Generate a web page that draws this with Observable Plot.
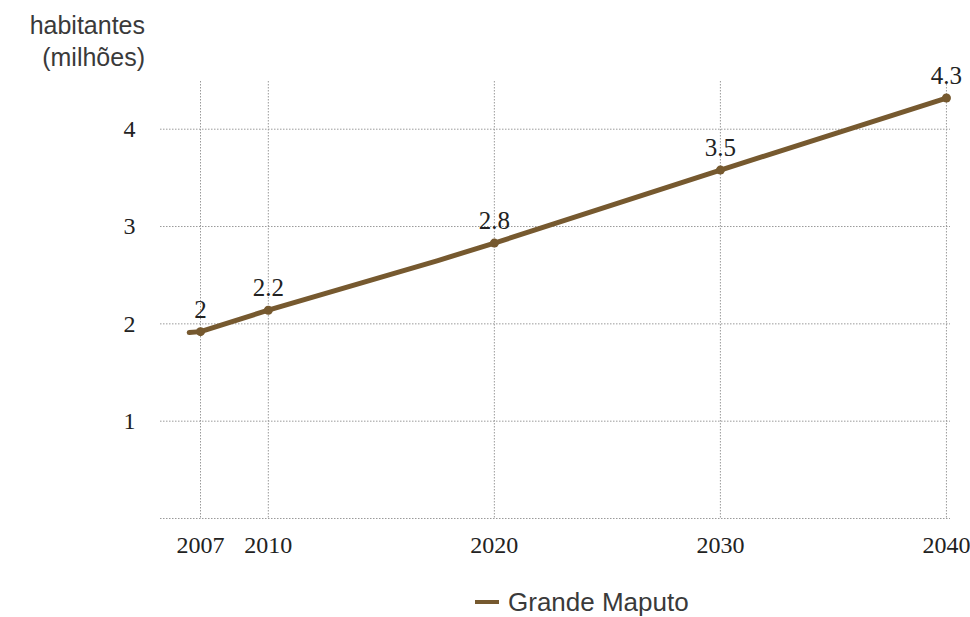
<!DOCTYPE html>
<html>
<head>
<meta charset="utf-8">
<script src="https://cdn.jsdelivr.net/npm/d3@7"></script>
<script src="https://cdn.jsdelivr.net/npm/@observablehq/plot@0.6"></script>
<style>
  html, body { margin: 0; padding: 0; background: #fff; }
  #wrap { position: relative; width: 970px; height: 617px; overflow: hidden; }
  #title { position: absolute; right: 825px; top: 9px; text-align: right; white-space: nowrap;
    font-family: "Liberation Sans", Arial, sans-serif; font-size: 25px; line-height: 32px; color: #3a3a3a; }
  #legend { position: absolute; left: 475px; top: 587px; white-space: nowrap;
    font-family: "Liberation Sans", Arial, sans-serif; font-size: 26px; color: #3a3a3a; }
  #legend .sw { display: inline-block; width: 24px; height: 4px; background: #76592f; vertical-align: middle; margin-right: 9px; position: relative; top: -2px; }
  #chart { position: absolute; left: 0; top: 0; }
</style>
</head>
<body>
<div id="wrap">
  <div id="chart"></div>
  <div id="title">habitantes<br>(milhões)</div>
  <div id="legend"><span class="sw"></span>Grande Maputo</div>
</div>
<script>
// Data
const lineYears  = [2006.5, 2007, 2010, 2017.5, 2020, 2030, 2040];
const lineValues = [1.91, 1.92, 2.14, 2.65, 2.83, 3.58, 4.32];
const pointYears = [2007, 2010, 2020, 2030, 2040];
const pointValues = [1.92, 2.14, 2.83, 3.58, 4.32];
const pointLabels = ["2", "2.2", "2.8", "3.5", "4.3"];
const xTicks = [2007, 2010, 2020, 2030, 2040];
const yTicks = [1, 2, 3, 4];
const yGrid = [0, 1, 2, 3, 4];
const seriesName = "Grande Maputo";

const lineData = lineYears.map((y, i) => ({year: y, value: lineValues[i], series: seriesName}));
const pointData = pointYears.map((y, i) => ({year: y, value: pointValues[i], label: pointLabels[i]}));

const color = "#76592f";
const serif = "'Liberation Serif', 'DejaVu Serif', serif";

const chart = Plot.plot({
  width: 970,
  height: 570,
  marginLeft: 160,
  marginRight: 20,
  marginTop: 81,
  marginBottom: 52,
  x: {domain: [2005.23, 2040.18]},
  y: {domain: [0, 4.49]},
  style: {background: "transparent"},
  marks: [
    Plot.ruleY(yGrid, {stroke: "#9a9a9a", strokeWidth: 1, strokeDasharray: "1.5,1.5"}),
    Plot.ruleX(xTicks, {stroke: "#9a9a9a", strokeWidth: 1, strokeDasharray: "1.5,1.5"}),
    Plot.axisY(yTicks, {tickSize: 0, tickPadding: 25, fontSize: 24, fontFamily: serif, color: "#222", label: null, tickFormat: d => String(d)}),
    Plot.axisX(xTicks, {tickSize: 0, tickPadding: 17, fontSize: 24, fontFamily: serif, color: "#222", label: null, tickFormat: d => String(d)}),
    Plot.line(lineData, {x: "year", y: "value", stroke: color, strokeWidth: 5, strokeLinejoin: "round"}),
    Plot.dot(pointData, {x: "year", y: "value", r: 4.5, fill: color, stroke: "none"}),
    Plot.text(pointData, {x: "year", y: "value", text: "label", dy: -14, lineAnchor: "bottom", fontSize: 25, fontFamily: serif, fill: "#222"})
  ]
});
document.getElementById("chart").appendChild(chart);
</script>
</body>
</html>
